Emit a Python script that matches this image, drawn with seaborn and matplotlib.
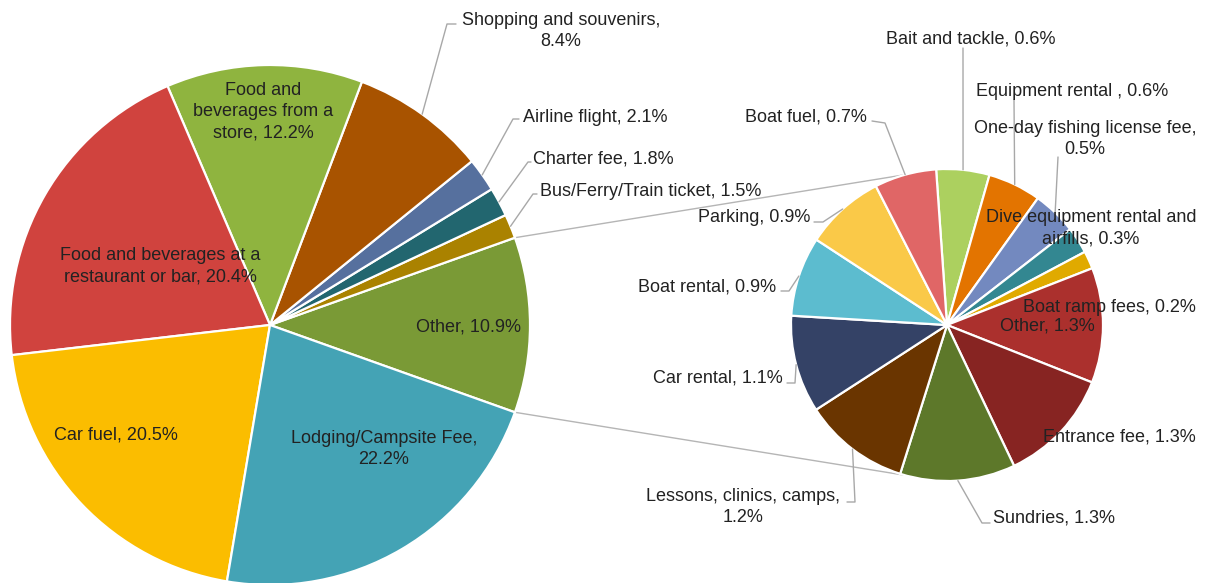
import matplotlib.pyplot as plt
import numpy as np
import seaborn as sns

# main pie (starts with the "Other" slice that is broken out)
main_labels = ["Other", "Bus/Ferry/Train ticket", "Charter fee", "Airline flight",
               "Shopping and souvenirs", "Food and beverages from a store",
               "Food and beverages at a restaurant or bar", "Car fuel",
               "Lodging/Campsite Fee"]
main_values = [10.9, 1.5, 1.8, 2.1, 8.4, 12.2, 20.4, 20.5, 22.2]
main_colors = ["#7a9a36", "#aa8200", "#22666f", "#56709e", "#a85300",
               "#8fb43f", "#d0433e", "#fbbd00", "#44a3b5"]

# breakdown of "Other"
other_labels = ["Bait and tackle", "Equipment rental ", "One-day fishing license fee",
                "Dive equipment rental and airfills", "Boat ramp fees", "Other",
                "Entrance fee", "Sundries", "Lessons, clinics, camps", "Car rental",
                "Boat rental", "Parking", "Boat fuel"]
other_values = [0.6, 0.6, 0.5, 0.3, 0.2, 1.3, 1.3, 1.3, 1.2, 1.1, 0.9, 0.9, 0.7]
other_colors = ["#acd05f", "#e37400", "#7389bf", "#338791", "#e0aa00", "#ab302d",
                "#872422", "#5d782a", "#6a3500", "#344266", "#5cbccf", "#fac948",
                "#e06666"]

W, H = 1207, 583
sns.set_theme(style="white")
plt.rcParams["font.family"] = ["Liberation Sans", "DejaVu Sans"]

fig = plt.figure(figsize=(W / 100, H / 100), dpi=100)
ax = fig.add_axes([0, 0, 1, 1])

main_c, main_r = (270, H - 325), 260
sub_c, sub_r = (947, H - 325), 156
wp = dict(edgecolor="white", linewidth=1.6)

start = -main_values[0] / sum(main_values) * 180
w_main, _ = ax.pie(main_values, colors=main_colors, startangle=start,
                   center=main_c, radius=main_r, wedgeprops=wp)
w_sub, _ = ax.pie(other_values, colors=other_colors, startangle=94,
                  counterclock=False, center=sub_c, radius=sub_r, wedgeprops=wp)


def pt(c, r, ang):
    a = np.deg2rad(ang)
    return c[0] + r * np.cos(a), c[1] + r * np.sin(a)


# connector lines between the two pies
for a_main, a_sub in [(w_main[0].theta2, 105.5), (w_main[0].theta1, -105.5)]:
    p1 = pt(main_c, main_r, a_main)
    p2 = pt(sub_c, sub_r, a_sub)
    ax.plot([p1[0], p2[0]], [p1[1], p2[1]], color="#b5b5b5", lw=1, zorder=0)

# label layout in pixels: x, y, ha, words per line, leader points
main_layout = {
    0: (469, 327, "center", None, None),
    1: (540, 191, "left", None, [(533, 194), (537, 194)]),
    2: (533, 159, "left", None, [(528, 162), (531, 162)]),
    3: (523, 118, "left", None, [(513, 119), (519, 119)]),
    4: (561, 31, "center", [3, 1], [(447, 24), (456, 24)]),
    5: (263, 112, "center", [2, 3, 2], None),
    6: (160, 266, "center", [5, 4], None),
    7: (116, 435, "center", None, None),
    8: (384, 449, "center", [2, 1], None),
}
sub_layout = {
    0: (971, 39, "center", None, [(963, 48)]),
    1: (976, 92, "left", None, [(1014, 100)]),
    2: (1085, 139, "center", [4, 1], [(1058, 157)]),
    3: (1091, 228, "center", [4, 2], None),
    4: (1023, 308, "left", None, None),
    5: (1047, 326, "center", None, None),
    6: (1043, 437, "left", None, None),
    7: (993, 518, "left", None, [(982, 523), (990, 523)]),
    8: (743, 507, "center", [3, 1], [(855, 502), (847, 502)]),
    9: (783, 378, "right", None, [(795, 383), (787, 383)]),
    10: (776, 287, "right", None, [(789, 291), (781, 291)]),
    11: (810, 217, "right", None, [(823, 222), (814, 222)]),
    12: (867, 117, "right", None, [(885, 123), (872, 121)]),
}


def draw_labels(wedges, labels, values, layout, c, r):
    for i, (x, y, ha, breaks, leader) in layout.items():
        words = f"{labels[i]}, {values[i]}%".split(" ")
        if breaks:
            lines, k = [], 0
            for n in breaks:
                lines.append(" ".join(words[k:k + n]))
                k += n
            txt = "\n".join(lines)
        else:
            txt = " ".join(words)
        ax.text(x, H - y, txt, ha=ha, va="center", fontsize=13,
                color="#222222", linespacing=1.33, zorder=5,
                multialignment="center")
        if leader:
            mid = (wedges[i].theta1 + wedges[i].theta2) / 2
            p0 = pt(c, r, mid)
            xs = [p0[0]] + [p[0] for p in leader]
            ys = [p0[1]] + [H - p[1] for p in leader]
            ax.plot(xs, ys, color="#a8a8a8", lw=1, zorder=4)


draw_labels(w_main, main_labels, main_values, main_layout, main_c, main_r)
draw_labels(w_sub, other_labels, other_values, sub_layout, sub_c, sub_r)

ax.set_xlim(0, W)
ax.set_ylim(0, H)
ax.set_aspect("equal")
ax.axis("off")
fig.savefig("out.png", dpi=100, facecolor="white")
